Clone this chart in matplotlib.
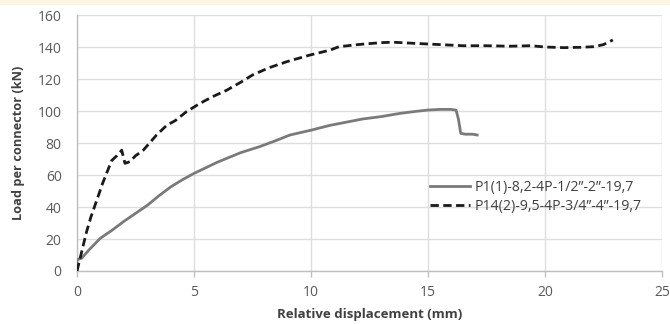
import matplotlib
matplotlib.use("Agg")
import matplotlib.pyplot as plt
from matplotlib.patches import Rectangle

plt.rcParams['font.family'] = ['Open Sans', 'DejaVu Sans']

# Series 1: P1(1)-8,2-4P-1/2"-2"-19,7 (solid grey)
x1 = [0.0, 0.0, 0.2, 0.5, 1.0, 1.5, 2.0, 2.5, 3.0, 3.5, 4.0, 4.5, 5.0, 5.5, 6.0,
      6.5, 7.0, 7.8, 8.5, 9.1, 10.0, 10.8, 11.5, 12.2, 13.0, 13.8, 14.5, 15.0,
      15.5, 16.0, 16.2, 16.3, 16.4, 16.6, 16.9, 17.1]
y1 = [0.0, 7.0, 8.0, 13.0, 20.5, 25.5, 31.0, 36.0, 41.0, 47.0, 52.5, 57.0, 61.0,
      64.5, 68.0, 71.0, 74.0, 77.7, 81.5, 85.0, 88.0, 91.0, 93.0, 95.0, 96.5,
      98.5, 99.8, 100.6, 101.0, 101.0, 100.5, 95.0, 86.0, 85.5, 85.5, 85.0]

# Series 2: P14(2)-9,5-4P-3/4"-4"-19,7 (dashed black)
x2 = [0.0, 0.2, 0.41, 0.6, 0.84, 1.1, 1.48, 1.7, 1.91, 2.05, 2.26, 2.5, 2.84,
      3.1, 3.4, 3.83, 4.2, 4.68, 5.26, 5.8, 6.4, 7.0, 7.5, 8.2, 8.96, 9.96,
      10.8, 11.2, 12.0, 12.96, 13.5, 14.4, 15.5, 16.5, 17.5, 18.5, 19.4,
      20.0, 20.8, 21.5, 22.1, 22.5, 22.9]
y2 = [0.0, 12.0, 24.6, 34.0, 44.0, 55.0, 69.0, 72.0, 75.5, 67.3, 68.3, 72.0,
      75.6, 80.0, 85.0, 91.0, 94.0, 99.6, 104.8, 109.0, 113.0, 118.0, 122.5,
      127.0, 130.8, 135.0, 138.0, 140.2, 141.5, 142.7, 143.0, 142.3, 141.5,
      140.8, 140.8, 140.5, 140.8, 140.0, 139.6, 139.8, 140.2, 141.5, 144.4]

label1 = 'P1(1)-8,2-4P-1/2”-2”-19,7'
label2 = 'P14(2)-9,5-4P-3/4”-4”-19,7'

xticks = [0, 5, 10, 15, 20, 25]
yticks = [0, 20, 40, 60, 80, 100, 120, 140, 160]

fig = plt.figure(figsize=(6.7, 3.24), dpi=100)
fig.patch.set_facecolor('white')
fig.add_artist(Rectangle((0, 1 - 5/324), 1, 5/324, transform=fig.transFigure,
                         facecolor='#fdf5e1', edgecolor='none', zorder=0))

ax = fig.add_axes([77/670, 1 - 271/324, (662 - 77)/670, (271 - 15)/324])
ax.plot(x1, y1, color='#7a7a7a', lw=2.0, label=label1, zorder=3)
ax.plot(x2, y2, color='#1a1a1a', lw=2.0, ls=(0, (3, 1.6)), label=label2, zorder=3)

ax.set_xlim(0, 25)
ax.set_ylim(0, 160)
ax.set_xticks(xticks)
ax.set_yticks(yticks)
ax.grid(True, color='#dedede', lw=1.0)
ax.set_axisbelow(True)
for s in ['top', 'right']:
    ax.spines[s].set_visible(False)
for s in ['left', 'bottom']:
    ax.spines[s].set_color('#bfbfbf')
    ax.spines[s].set_linewidth(1.0)
ax.tick_params(axis='both', colors='#bfbfbf', labelcolor='#595959',
               labelsize=10, width=1)
ax.tick_params(axis='x', length=4, pad=6)
ax.tick_params(axis='y', length=0, pad=11)

ax.set_xlabel('Relative displacement (mm)', fontsize=9.5, fontweight='bold',
              color='#404040', labelpad=6)
ax.set_ylabel('Load per connector (kN)', fontsize=9.2, fontweight='bold',
              color='#404040', labelpad=9)

leg = ax.legend(loc='center left', bbox_to_anchor=(430/585 - 77/585, 0.29),
                frameon=False, fontsize=10.2, handlelength=2.8, handletextpad=0.35,
                labelspacing=0.3, borderaxespad=0, borderpad=0)
for t in leg.get_texts():
    t.set_color('#404040')

fig.savefig('out.png', dpi=100)
